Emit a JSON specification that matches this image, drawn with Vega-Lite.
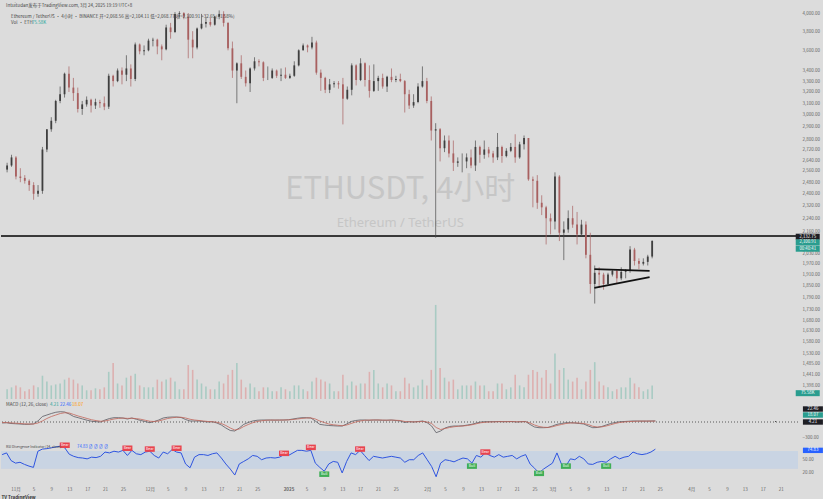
{
"$schema":"https://vega.github.io/schema/vega-lite/v6.json",
"background":"#dcdcdc",
"padding":{"left":0,"top":2,"right":0,"bottom":0},
"spacing":0,
"title":{"text":"Intuitudan发布于TradingView.com, 3月 24, 2025 19:19 UTC+8","anchor":"start","fontSize":4.5,"fontWeight":"normal","color":"#444","offset":3,"font":"Noto Sans CJK SC","dx":6},
"config":{"view":{"stroke":null},"font":"Noto Sans CJK SC","axis":{"grid":false,"domain":false,"ticks":false,"labelFontSize":4.5,"labelColor":"#666","labelFont":"Noto Sans CJK SC","labelOverlap":false}},
"datasets":{
"p":[
{"d":"2024-10-29","o":2570,"h":2620,"l":2550,"c":2600,"v":10,"m":-20,"s":-10,"r":62},
{"d":"2024-10-30","o":2600,"h":2680,"l":2590,"c":2660,"v":12,"m":-15,"s":-12,"r":66},
{"d":"2024-10-31","o":2660,"h":2670,"l":2500,"c":2520,"v":14,"m":-30,"s":-18,"r":48},
{"d":"2024-11-01","o":2520,"h":2580,"l":2480,"c":2510,"v":12,"m":-35,"s":-24,"r":42},
{"d":"2024-11-02","o":2510,"h":2530,"l":2470,"c":2490,"v":8,"m":-40,"s":-30,"r":44},
{"d":"2024-11-03","o":2490,"h":2500,"l":2420,"c":2460,"v":10,"m":-47,"s":-36,"r":39},
{"d":"2024-11-04","o":2460,"h":2480,"l":2360,"c":2400,"v":14,"m":-45,"s":-40,"r":35},
{"d":"2024-11-05","o":2400,"h":2460,"l":2380,"c":2420,"v":12,"m":-38,"s":-40,"r":32},
{"d":"2024-11-06","o":2420,"h":2740,"l":2400,"c":2720,"v":24,"m":20,"s":-20,"r":70},
{"d":"2024-11-07","o":2720,"h":2880,"l":2700,"c":2880,"v":18,"m":110,"s":20,"r":75},
{"d":"2024-11-08","o":2880,"h":2980,"l":2860,"c":2950,"v":14,"m":140,"s":70,"r":76},
{"d":"2024-11-09","o":2950,"h":3130,"l":2930,"c":3120,"v":15,"m":170,"s":110,"r":78},
{"d":"2024-11-10","o":3120,"h":3250,"l":3100,"c":3180,"v":16,"m":195,"s":140,"r":80},
{"d":"2024-11-11","o":3180,"h":3380,"l":3150,"c":3370,"v":20,"m":206,"s":170,"r":82},
{"d":"2024-11-12","o":3370,"h":3440,"l":3200,"c":3240,"v":22,"m":200,"s":185,"r":78},
{"d":"2024-11-13","o":3240,"h":3330,"l":3120,"c":3190,"v":20,"m":160,"s":180,"r":63},
{"d":"2024-11-14","o":3190,"h":3240,"l":3020,"c":3050,"v":16,"m":110,"s":150,"r":58},
{"d":"2024-11-15","o":3050,"h":3120,"l":3000,"c":3090,"v":14,"m":86,"s":120,"r":55},
{"d":"2024-11-16","o":3090,"h":3160,"l":3070,"c":3130,"v":9,"m":60,"s":95,"r":54},
{"d":"2024-11-17","o":3130,"h":3140,"l":3020,"c":3080,"v":9,"m":35,"s":70,"r":52},
{"d":"2024-11-18","o":3080,"h":3140,"l":3050,"c":3110,"v":11,"m":15,"s":45,"r":56},
{"d":"2024-11-19","o":3110,"h":3130,"l":3060,"c":3100,"v":10,"m":6,"s":28,"r":55},
{"d":"2024-11-20","o":3100,"h":3160,"l":3040,"c":3070,"v":12,"m":0,"s":15,"r":58},
{"d":"2024-11-21","o":3070,"h":3370,"l":3050,"c":3350,"v":28,"m":40,"s":20,"r":68},
{"d":"2024-11-22","o":3350,"h":3360,"l":3250,"c":3300,"v":37,"m":70,"s":40,"r":66},
{"d":"2024-11-23","o":3300,"h":3420,"l":3290,"c":3400,"v":16,"m":86,"s":60,"r":70},
{"d":"2024-11-24","o":3400,"h":3430,"l":3270,"c":3360,"v":14,"m":86,"s":72,"r":68},
{"d":"2024-11-25","o":3360,"h":3550,"l":3300,"c":3420,"v":22,"m":80,"s":78,"r":72},
{"d":"2024-11-26","o":3420,"h":3460,"l":3250,"c":3320,"v":24,"m":60,"s":72,"r":60},
{"d":"2024-11-27","o":3320,"h":3680,"l":3300,"c":3660,"v":26,"m":80,"s":75,"r":72},
{"d":"2024-11-28","o":3660,"h":3670,"l":3560,"c":3590,"v":14,"m":55,"s":68,"r":64},
{"d":"2024-11-29","o":3590,"h":3650,"l":3550,"c":3600,"v":12,"m":30,"s":55,"r":62},
{"d":"2024-11-30","o":3600,"h":3720,"l":3590,"c":3700,"v":12,"m":10,"s":35,"r":68},
{"d":"2024-12-01","o":3700,"h":3730,"l":3640,"c":3710,"v":12,"m":-14,"s":15,"r":70},
{"d":"2024-12-02","o":3710,"h":3720,"l":3560,"c":3640,"v":20,"m":10,"s":10,"r":60},
{"d":"2024-12-03","o":3640,"h":3660,"l":3500,"c":3610,"v":18,"m":40,"s":20,"r":54},
{"d":"2024-12-04","o":3610,"h":3870,"l":3600,"c":3840,"v":20,"m":80,"s":45,"r":68},
{"d":"2024-12-05","o":3840,"h":3890,"l":3720,"c":3790,"v":22,"m":95,"s":70,"r":64},
{"d":"2024-12-06","o":3790,"h":4010,"l":3780,"c":3990,"v":18,"m":100,"s":85,"r":74},
{"d":"2024-12-07","o":3990,"h":4020,"l":3950,"c":4000,"v":10,"m":100,"s":95,"r":68},
{"d":"2024-12-08","o":4000,"h":4010,"l":3930,"c":3960,"v":10,"m":90,"s":95,"r":66},
{"d":"2024-12-09","o":3960,"h":4000,"l":3520,"c":3710,"v":35,"m":50,"s":80,"r":40},
{"d":"2024-12-10","o":3710,"h":3800,"l":3520,"c":3630,"v":30,"m":20,"s":55,"r":31},
{"d":"2024-12-11","o":3630,"h":3840,"l":3610,"c":3830,"v":20,"m":20,"s":40,"r":56},
{"d":"2024-12-12","o":3830,"h":3990,"l":3820,"c":3880,"v":16,"m":20,"s":30,"r":62},
{"d":"2024-12-13","o":3880,"h":3950,"l":3840,"c":3900,"v":13,"m":10,"s":20,"r":62},
{"d":"2024-12-14","o":3900,"h":3950,"l":3850,"c":3870,"v":10,"m":0,"s":10,"r":60},
{"d":"2024-12-15","o":3870,"h":3970,"l":3860,"c":3960,"v":10,"m":5,"s":5,"r":64},
{"d":"2024-12-16","o":3960,"h":4030,"l":3930,"c":3990,"v":18,"m":-20,"s":-5,"r":66},
{"d":"2024-12-17","o":3990,"h":4020,"l":3850,"c":3890,"v":16,"m":-60,"s":-30,"r":54},
{"d":"2024-12-18","o":3890,"h":3900,"l":3600,"c":3620,"v":25,"m":-120,"s":-70,"r":40},
{"d":"2024-12-19","o":3620,"h":3690,"l":3330,"c":3400,"v":30,"m":-170,"s":-120,"r":28},
{"d":"2024-12-20","o":3400,"h":3480,"l":3100,"c":3470,"v":37,"m":-180,"s":-160,"r":14},
{"d":"2024-12-21","o":3470,"h":3550,"l":3320,"c":3340,"v":20,"m":-120,"s":-140,"r":40},
{"d":"2024-12-22","o":3340,"h":3400,"l":3250,"c":3280,"v":12,"m":-47,"s":-90,"r":46},
{"d":"2024-12-23","o":3280,"h":3430,"l":3200,"c":3420,"v":16,"m":-10,"s":-50,"r":52},
{"d":"2024-12-24","o":3420,"h":3530,"l":3400,"c":3490,"v":12,"m":20,"s":-15,"r":60},
{"d":"2024-12-25","o":3490,"h":3510,"l":3440,"c":3480,"v":8,"m":35,"s":10,"r":58},
{"d":"2024-12-26","o":3480,"h":3490,"l":3300,"c":3330,"v":12,"m":40,"s":25,"r":50},
{"d":"2024-12-27","o":3330,"h":3440,"l":3310,"c":3330,"v":12,"m":40,"s":35,"r":54},
{"d":"2024-12-28","o":3330,"h":3420,"l":3320,"c":3400,"v":8,"m":40,"s":38,"r":55},
{"d":"2024-12-29","o":3400,"h":3410,"l":3330,"c":3350,"v":8,"m":38,"s":38,"r":54},
{"d":"2024-12-30","o":3350,"h":3420,"l":3300,"c":3360,"v":12,"m":40,"s":38,"r":56},
{"d":"2024-12-31","o":3360,"h":3430,"l":3320,"c":3330,"v":10,"m":40,"s":40,"r":62},
{"d":"2025-01-01","o":3330,"h":3370,"l":3320,"c":3350,"v":8,"m":45,"s":42,"r":60},
{"d":"2025-01-02","o":3350,"h":3490,"l":3340,"c":3450,"v":14,"m":60,"s":50,"r":66},
{"d":"2025-01-03","o":3450,"h":3610,"l":3440,"c":3600,"v":14,"m":75,"s":60,"r":72},
{"d":"2025-01-04","o":3600,"h":3670,"l":3600,"c":3650,"v":10,"m":86,"s":72,"r":72},
{"d":"2025-01-05","o":3650,"h":3660,"l":3580,"c":3630,"v":8,"m":86,"s":80,"r":70},
{"d":"2025-01-06","o":3630,"h":3740,"l":3610,"c":3680,"v":18,"m":80,"s":82,"r":72},
{"d":"2025-01-07","o":3680,"h":3700,"l":3360,"c":3380,"v":22,"m":20,"s":60,"r":42},
{"d":"2025-01-08","o":3380,"h":3410,"l":3210,"c":3330,"v":20,"m":-47,"s":20,"r":32},
{"d":"2025-01-09","o":3330,"h":3340,"l":3190,"c":3220,"v":18,"m":-60,"s":-10,"r":23},
{"d":"2025-01-10","o":3220,"h":3320,"l":3190,"c":3270,"v":16,"m":-70,"s":-40,"r":40},
{"d":"2025-01-11","o":3270,"h":3300,"l":3240,"c":3280,"v":8,"m":-75,"s":-55,"r":46},
{"d":"2025-01-12","o":3280,"h":3300,"l":3230,"c":3270,"v":8,"m":-80,"s":-65,"r":44},
{"d":"2025-01-13","o":3270,"h":3330,"l":2920,"c":3140,"v":25,"m":-80,"s":-75,"r":19},
{"d":"2025-01-14","o":3140,"h":3250,"l":3130,"c":3220,"v":14,"m":-40,"s":-60,"r":46},
{"d":"2025-01-15","o":3220,"h":3470,"l":3170,"c":3450,"v":18,"m":10,"s":-30,"r":66},
{"d":"2025-01-16","o":3450,"h":3460,"l":3260,"c":3310,"v":14,"m":30,"s":0,"r":62},
{"d":"2025-01-17","o":3310,"h":3520,"l":3300,"c":3470,"v":16,"m":40,"s":20,"r":72},
{"d":"2025-01-18","o":3470,"h":3480,"l":3250,"c":3310,"v":16,"m":40,"s":35,"r":60},
{"d":"2025-01-19","o":3310,"h":3450,"l":3150,"c":3210,"v":28,"m":35,"s":38,"r":48},
{"d":"2025-01-20","o":3210,"h":3460,"l":3200,"c":3300,"v":30,"m":40,"s":40,"r":58},
{"d":"2025-01-21","o":3300,"h":3350,"l":3210,"c":3330,"v":16,"m":40,"s":40,"r":56},
{"d":"2025-01-22","o":3330,"h":3370,"l":3230,"c":3250,"v":12,"m":35,"s":38,"r":54},
{"d":"2025-01-23","o":3250,"h":3350,"l":3200,"c":3340,"v":16,"m":35,"s":36,"r":56},
{"d":"2025-01-24","o":3340,"h":3420,"l":3290,"c":3310,"v":14,"m":40,"s":38,"r":58},
{"d":"2025-01-25","o":3310,"h":3350,"l":3290,"c":3320,"v":8,"m":30,"s":35,"r":56},
{"d":"2025-01-26","o":3320,"h":3370,"l":3290,"c":3300,"v":8,"m":20,"s":30,"r":54},
{"d":"2025-01-27","o":3300,"h":3310,"l":3020,"c":3180,"v":22,"m":-10,"s":10,"r":44},
{"d":"2025-01-28","o":3180,"h":3220,"l":3050,"c":3080,"v":16,"m":6,"s":5,"r":50},
{"d":"2025-01-29","o":3080,"h":3180,"l":3060,"c":3110,"v":12,"m":0,"s":2,"r":50},
{"d":"2025-01-30","o":3110,"h":3280,"l":3100,"c":3250,"v":14,"m":10,"s":5,"r":60},
{"d":"2025-01-31","o":3250,"h":3440,"l":3240,"c":3300,"v":20,"m":20,"s":12,"r":66},
{"d":"2025-02-01","o":3300,"h":3330,"l":3100,"c":3120,"v":14,"m":-14,"s":0,"r":50},
{"d":"2025-02-02","o":3120,"h":3160,"l":2790,"c":2870,"v":30,"m":-80,"s":-30,"r":34},
{"d":"2025-02-03","o":2870,"h":2930,"l":2120,"c":2880,"v":97,"m":-214,"s":-110,"r":10},
{"d":"2025-02-04","o":2880,"h":2890,"l":2630,"c":2730,"v":32,"m":-180,"s":-150,"r":42},
{"d":"2025-02-05","o":2730,"h":2830,"l":2700,"c":2790,"v":22,"m":-120,"s":-130,"r":50},
{"d":"2025-02-06","o":2790,"h":2830,"l":2660,"c":2690,"v":18,"m":-90,"s":-110,"r":48},
{"d":"2025-02-07","o":2690,"h":2790,"l":2560,"c":2620,"v":20,"m":-80,"s":-95,"r":45},
{"d":"2025-02-08","o":2620,"h":2660,"l":2590,"c":2630,"v":10,"m":-80,"s":-85,"r":50},
{"d":"2025-02-09","o":2630,"h":2690,"l":2550,"c":2630,"v":14,"m":-75,"s":-80,"r":54},
{"d":"2025-02-10","o":2630,"h":2690,"l":2580,"c":2660,"v":14,"m":-60,"s":-70,"r":52},
{"d":"2025-02-11","o":2660,"h":2720,"l":2580,"c":2600,"v":14,"m":-45,"s":-55,"r":42},
{"d":"2025-02-12","o":2600,"h":2790,"l":2560,"c":2740,"v":18,"m":-20,"s":-35,"r":60},
{"d":"2025-02-13","o":2740,"h":2750,"l":2620,"c":2680,"v":14,"m":0,"s":-15,"r":56},
{"d":"2025-02-14","o":2680,"h":2790,"l":2650,"c":2720,"v":14,"m":6,"s":-5,"r":66},
{"d":"2025-02-15","o":2720,"h":2740,"l":2660,"c":2690,"v":8,"m":6,"s":0,"r":60},
{"d":"2025-02-16","o":2690,"h":2710,"l":2620,"c":2660,"v":8,"m":6,"s":3,"r":56},
{"d":"2025-02-17","o":2660,"h":2850,"l":2640,"c":2740,"v":16,"m":10,"s":6,"r":62},
{"d":"2025-02-18","o":2740,"h":2750,"l":2620,"c":2670,"v":16,"m":6,"s":6,"r":56},
{"d":"2025-02-19","o":2670,"h":2730,"l":2660,"c":2710,"v":10,"m":8,"s":6,"r":58},
{"d":"2025-02-20","o":2710,"h":2770,"l":2700,"c":2740,"v":12,"m":10,"s":8,"r":60},
{"d":"2025-02-21","o":2740,"h":2840,"l":2620,"c":2660,"v":25,"m":0,"s":5,"r":52},
{"d":"2025-02-22","o":2660,"h":2780,"l":2650,"c":2760,"v":14,"m":6,"s":5,"r":58},
{"d":"2025-02-23","o":2760,"h":2830,"l":2720,"c":2810,"v":12,"m":10,"s":6,"r":62},
{"d":"2025-02-24","o":2810,"h":2810,"l":2490,"c":2500,"v":25,"m":-50,"s":-20,"r":40},
{"d":"2025-02-25","o":2500,"h":2520,"l":2310,"c":2490,"v":30,"m":-100,"s":-60,"r":30},
{"d":"2025-02-26","o":2490,"h":2530,"l":2300,"c":2340,"v":28,"m":-114,"s":-90,"r":19},
{"d":"2025-02-27","o":2340,"h":2390,"l":2260,"c":2310,"v":22,"m":-114,"s":-105,"r":28},
{"d":"2025-02-28","o":2310,"h":2320,"l":2080,"c":2240,"v":30,"m":-110,"s":-108,"r":35},
{"d":"2025-03-01","o":2240,"h":2270,"l":2140,"c":2220,"v":16,"m":-80,"s":-95,"r":42},
{"d":"2025-03-02","o":2220,"h":2550,"l":2170,"c":2520,"v":47,"m":-47,"s":-70,"r":66},
{"d":"2025-03-03","o":2520,"h":2530,"l":2100,"c":2150,"v":30,"m":-30,"s":-50,"r":40},
{"d":"2025-03-04","o":2150,"h":2220,"l":1990,"c":2170,"v":32,"m":-14,"s":-30,"r":35},
{"d":"2025-03-05","o":2170,"h":2290,"l":2150,"c":2240,"v":20,"m":-14,"s":-20,"r":52},
{"d":"2025-03-06","o":2240,"h":2320,"l":2180,"c":2200,"v":18,"m":-20,"s":-18,"r":50},
{"d":"2025-03-07","o":2200,"h":2280,"l":2080,"c":2140,"v":22,"m":-30,"s":-22,"r":58},
{"d":"2025-03-08","o":2140,"h":2230,"l":2130,"c":2200,"v":10,"m":-40,"s":-30,"r":52},
{"d":"2025-03-09","o":2200,"h":2220,"l":2000,"c":2020,"v":18,"m":-80,"s":-50,"r":40},
{"d":"2025-03-10","o":2020,"h":2150,"l":1810,"c":1860,"v":30,"m":-114,"s":-85,"r":39},
{"d":"2025-03-11","o":1860,"h":1960,"l":1760,"c":1920,"v":38,"m":-110,"s":-100,"r":44},
{"d":"2025-03-12","o":1920,"h":1950,"l":1840,"c":1910,"v":18,"m":-90,"s":-98,"r":46},
{"d":"2025-03-13","o":1910,"h":1920,"l":1830,"c":1860,"v":14,"m":-60,"s":-80,"r":44},
{"d":"2025-03-14","o":1860,"h":1920,"l":1850,"c":1910,"v":12,"m":-30,"s":-55,"r":52},
{"d":"2025-03-15","o":1910,"h":1940,"l":1900,"c":1930,"v":8,"m":-10,"s":-30,"r":58},
{"d":"2025-03-16","o":1930,"h":1940,"l":1860,"c":1890,"v":10,"m":5,"s":-10,"r":52},
{"d":"2025-03-17","o":1890,"h":1950,"l":1880,"c":1925,"v":12,"m":10,"s":0,"r":56},
{"d":"2025-03-18","o":1925,"h":1940,"l":1890,"c":1930,"v":12,"m":15,"s":8,"r":58},
{"d":"2025-03-19","o":1930,"h":2070,"l":1920,"c":2050,"v":22,"m":20,"s":12,"r":68},
{"d":"2025-03-20","o":2050,"h":2060,"l":1960,"c":1985,"v":16,"m":20,"s":16,"r":64},
{"d":"2025-03-21","o":1985,"h":2000,"l":1940,"c":1970,"v":12,"m":18,"s":18,"r":62},
{"d":"2025-03-22","o":1970,"h":2000,"l":1960,"c":1980,"v":8,"m":18,"s":18,"r":64},
{"d":"2025-03-23","o":1980,"h":2020,"l":1960,"c":2010,"v":10,"m":20,"s":18,"r":68},
{"d":"2025-03-24","o":2010,"h":2104,"l":2000,"c":2101,"v":14,"m":22.46,"s":18.07,"r":74.83}
],
"wm":[
{"t":"ETHUSDT, 4小时","d":"2025-01-26","p":2424,"k":"big"},
{"t":"Ethereum / TetherUS","d":"2025-01-26","p":2210,"k":"small"}
],
"tri":[
{"d":"2025-03-10T22:00:00Z","d2":"2025-03-23T10:00:00Z","p":1940,"p2":1930},
{"d":"2025-03-10T22:00:00Z","d2":"2025-03-23T10:00:00Z","p":1840,"p2":1897}
],
"leg":[
{"t":"Ethereum / TetherUS · 4小时 · BINANCE  开=2,068.56  高=2,104.11  低=2,068.77  收=2,100.91  +32.65 (+1.58%)","d":"2024-10-29","p":3955}
],
"vol":[{"t":"Vol · ETH","d":"2024-10-29","p":3888}],
"volv":[{"t":"75.58K","d":"2024-10-29","p":3888}],
"mleg":[{"t":"MACD (12, 26, close)","d":"2024-10-29","m":340}],
"rleg":[{"t":"RSI Divergence Indicator (14, close)","d":"2024-10-29","r":79}],
"ptag":[
{"t":"2,132.75","d":"2025-04-28T05:00:00Z","p":2126,"k":"line"},
{"t":"2,100.91","d":"2025-04-28T05:00:00Z","p":2092,"k":"last"},
{"t":"00:40:41","d":"2025-04-28T05:00:00Z","p":2055,"k":"last"}
],
"vtag":[{"t":"75.58K","d":"2025-04-28T05:00:00Z","v":6,"k":"vol"}],
"mtag":[
{"t":"22.46","d":"2025-04-28T05:00:00Z","m":260,"k":"macd"},
{"t":"18.07","d":"2025-04-28T05:00:00Z","m":140,"k":"signal"},
{"t":"4.21","d":"2025-04-28T05:00:00Z","m":0,"k":"hist"}
],
"rtag":[{"t":"74.83","d":"2025-04-28T05:00:00Z","r":72,"k":"rsi"}],
"sig":[
{"d":"2024-11-12","r":84,"t":"Bear"},
{"d":"2024-11-26","r":77,"t":"Bear"},
{"d":"2024-12-01","r":75,"t":"Bear"},
{"d":"2024-12-07","r":77,"t":"Bear"},
{"d":"2024-12-31","r":65,"t":"Bear"},
{"d":"2025-01-06","r":79,"t":"Bear"},
{"d":"2025-01-17","r":75,"t":"Bear"},
{"d":"2025-02-14","r":68,"t":"Bear"},
{"d":"2025-01-09","r":16,"t":"Bull"},
{"d":"2025-02-11","r":35,"t":"Bull"},
{"d":"2025-02-26","r":18,"t":"Bull"},
{"d":"2025-03-04","r":35,"t":"Bull"},
{"d":"2025-03-13","r":35,"t":"Bull"}
]
},
"vconcat":[
{
"width":797,"height":388,
"layer":[
{"layer":[
{"data":{"name":"p"},"mark":{"type":"bar","size":1.6},
"encoding":{"x":{"field":"d","type":"temporal","scale":{"type":"utc","domain":[{"year":2024,"month":10,"date":28,"hours":18,"utc":true},{"year":2025,"month":4,"date":24,"hours":21,"utc":true}]},"axis":null},
"y":{"field":"v","type":"quantitative","scale":{"domain":[0,400],"nice":false},"axis":null},
"color":{"condition":{"test":"datum.c >= datum.o","value":"#a9cbc3"},"value":"#ddb0b0"}}},
{"data":{"name":"vtag"},"mark":{"type":"point","shape":"M-1,-0.25H1V0.25H-1Z","size":576,"filled":true,"opacity":1,"color":"#2a9d8f"},
"encoding":{"x":{"field":"d","type":"temporal"},"y":{"field":"v","type":"quantitative"}}},
{"data":{"name":"vtag"},"mark":{"type":"text","fontSize":4.3,"color":"white"},
"encoding":{"x":{"field":"d","type":"temporal"},"y":{"field":"v","type":"quantitative"},"text":{"field":"t"}}}
]},
{"layer":[
{"data":{"name":"wm"},"transform":[{"filter":"datum.k=='big'"}],"mark":{"type":"text","fontSize":31,"color":"#c6c6c6","font":"Noto Sans CJK SC"},
"encoding":{"x":{"field":"d","type":"temporal"},"y":{"field":"p","type":"quantitative","scale":{"type":"log","domain":[1344,4023],"nice":false},"axis":{"orient":"right","title":null,"labelOverlap":false,"tickCount":100,"values":[4000,3800,3600,3400,3300,3200,3100,3000,2900,2800,2720,2640,2560,2480,2400,2320,2240,2160,2030,1970,1910,1850,1790,1730,1680,1630,1580,1530,1485,1441,1398],"format":",.2f","labelPadding":4}},"text":{"field":"t"}}},
{"data":{"name":"wm"},"transform":[{"filter":"datum.k=='small'"}],"mark":{"type":"text","fontSize":13,"color":"#c6c6c6","font":"Noto Sans"},
"encoding":{"x":{"field":"d","type":"temporal"},"y":{"field":"p","type":"quantitative"},"text":{"field":"t"}}},
{"data":{"name":"p"},"mark":{"type":"rule","color":"#3a3a3a","strokeWidth":1.3},"encoding":{"y":{"datum":2132.75}}},
{"data":{"name":"p"},"mark":{"type":"rule","strokeWidth":0.7},
"encoding":{"x":{"field":"d","type":"temporal"},"y":{"field":"l","type":"quantitative"},"y2":{"field":"h"},
"color":{"condition":{"test":"datum.c >= datum.o","value":"#4a4a4a"},"value":"#a86060"}}},
{"data":{"name":"p"},"mark":{"type":"bar","size":1.8},
"encoding":{"x":{"field":"d","type":"temporal"},"y":{"field":"o","type":"quantitative"},"y2":{"field":"c"},
"color":{"condition":{"test":"datum.c >= datum.o","value":"#3f3f3f"},"value":"#a86060"}}},
{"data":{"name":"tri"},"mark":{"type":"rule","color":"#111","strokeWidth":1.8},
"encoding":{"x":{"field":"d","type":"temporal"},"x2":{"field":"d2"},"y":{"field":"p","type":"quantitative"},"y2":{"field":"p2"}}},
{"data":{"name":"leg"},"mark":{"type":"text","align":"left","fontSize":4.5,"color":"#444","dx":4},
"encoding":{"x":{"field":"d","type":"temporal"},"y":{"field":"p","type":"quantitative"},"text":{"field":"t"}}},
{"data":{"name":"vol"},"mark":{"type":"text","align":"left","fontSize":4.5,"color":"#444","dx":4},
"encoding":{"x":{"field":"d","type":"temporal"},"y":{"field":"p","type":"quantitative"},"text":{"field":"t"}}},
{"data":{"name":"volv"},"mark":{"type":"text","align":"left","fontSize":4.5,"color":"#26a69a","dx":25},
"encoding":{"x":{"field":"d","type":"temporal"},"y":{"field":"p","type":"quantitative"},"text":{"field":"t"}}},
{"data":{"name":"ptag"},"mark":{"type":"point","shape":"M-1,-0.25H1V0.25H-1Z","size":576,"filled":true,"opacity":1},
"encoding":{"x":{"field":"d","type":"temporal"},"y":{"field":"p","type":"quantitative"},
"color":{"field":"k","type":"nominal","scale":{"domain":["line","last"],"range":["#1e1e24","#2a9d8f"]},"legend":null}}},
{"data":{"name":"ptag"},"mark":{"type":"text","fontSize":4.3,"color":"white"},
"encoding":{"x":{"field":"d","type":"temporal"},"y":{"field":"p","type":"quantitative"},"text":{"field":"t"}}}
]}
],
"resolve":{"scale":{"y":"independent"}}
},
{
"width":797,"height":42,
"layer":[
{"data":{"name":"p"},"mark":{"type":"rule","color":"#9a9a9a","strokeDash":[1,2],"strokeWidth":0.6},"encoding":{"y":{"datum":0}}},
{"data":{"name":"p"},"mark":{"type":"line","color":"#5a5a62","strokeWidth":0.8},
"encoding":{"x":{"field":"d","type":"temporal","scale":{"type":"utc","domain":[{"year":2024,"month":10,"date":28,"hours":18,"utc":true},{"year":2025,"month":4,"date":24,"hours":21,"utc":true}]},"axis":null},
"y":{"field":"m","type":"quantitative","scale":{"domain":[-380,460],"nice":false},"axis":{"orient":"right","title":null,"values":[-300],"format":",.2f","labelPadding":4}}}},
{"data":{"name":"p"},"mark":{"type":"line","color":"#c2665a","strokeWidth":0.8},
"encoding":{"x":{"field":"d","type":"temporal"},"y":{"field":"s","type":"quantitative"}}},
{"data":{"name":"mleg"},"mark":{"type":"text","align":"left","fontSize":4.5,"color":"#444","dx":4},
"encoding":{"x":{"field":"d","type":"temporal"},"y":{"field":"m","type":"quantitative"},"text":{"field":"t"}}},
{"data":{"name":"mleg"},"mark":{"type":"text","align":"left","fontSize":4.5,"color":"#26a69a","dx":48,"text":"4.21"},
"encoding":{"x":{"field":"d","type":"temporal"},"y":{"field":"m","type":"quantitative"}}},
{"data":{"name":"mleg"},"mark":{"type":"text","align":"left","fontSize":4.5,"color":"#2962ff","dx":58,"text":"22.46"},
"encoding":{"x":{"field":"d","type":"temporal"},"y":{"field":"m","type":"quantitative"}}},
{"data":{"name":"mleg"},"mark":{"type":"text","align":"left","fontSize":4.5,"color":"#ff9800","dx":70,"text":"18.07"},
"encoding":{"x":{"field":"d","type":"temporal"},"y":{"field":"m","type":"quantitative"}}},
{"data":{"name":"mtag"},"mark":{"type":"point","shape":"M-1,-0.27H1V0.27H-1Z","size":400,"filled":true,"opacity":1},
"encoding":{"x":{"field":"d","type":"temporal"},"y":{"field":"m","type":"quantitative"},
"color":{"field":"k","type":"nominal","scale":{"domain":["macd","signal","hist"],"range":["#2962ff","#f57c00","#26a69a"]},"legend":null}}},
{"data":{"name":"mtag"},"mark":{"type":"text","fontSize":4.3,"color":"white"},
"encoding":{"x":{"field":"d","type":"temporal"},"y":{"field":"m","type":"quantitative"},"text":{"field":"t"}}}
]
},
{
"width":797,"height":40,
"layer":[
{"data":{"name":"p"},"mark":{"type":"rect","color":"#c9d4e3"},"encoding":{"y":{"datum":70},"y2":{"datum":30}}},
{"data":{"name":"p"},"mark":{"type":"line","color":"#2f55e0","strokeWidth":1},
"encoding":{"x":{"field":"d","type":"temporal","scale":{"type":"utc","domain":[{"year":2024,"month":10,"date":28,"hours":18,"utc":true},{"year":2025,"month":4,"date":24,"hours":21,"utc":true}]},
"axis":{"labelOverlap":false,"labelBound":false,"tickCount":100,"values":[
{"year":2024,"month":11,"date":1,"utc":true},{"year":2024,"month":11,"date":5,"utc":true},{"year":2024,"month":11,"date":9,"utc":true},{"year":2024,"month":11,"date":13,"utc":true},{"year":2024,"month":11,"date":17,"utc":true},{"year":2024,"month":11,"date":21,"utc":true},{"year":2024,"month":11,"date":25,"utc":true},
{"year":2024,"month":12,"date":1,"utc":true},{"year":2024,"month":12,"date":5,"utc":true},{"year":2024,"month":12,"date":9,"utc":true},{"year":2024,"month":12,"date":13,"utc":true},{"year":2024,"month":12,"date":17,"utc":true},{"year":2024,"month":12,"date":21,"utc":true},{"year":2024,"month":12,"date":25,"utc":true},
{"year":2025,"month":1,"date":1,"utc":true},{"year":2025,"month":1,"date":5,"utc":true},{"year":2025,"month":1,"date":9,"utc":true},{"year":2025,"month":1,"date":13,"utc":true},{"year":2025,"month":1,"date":17,"utc":true},{"year":2025,"month":1,"date":21,"utc":true},{"year":2025,"month":1,"date":25,"utc":true},
{"year":2025,"month":2,"date":1,"utc":true},{"year":2025,"month":2,"date":5,"utc":true},{"year":2025,"month":2,"date":9,"utc":true},{"year":2025,"month":2,"date":13,"utc":true},{"year":2025,"month":2,"date":17,"utc":true},{"year":2025,"month":2,"date":21,"utc":true},{"year":2025,"month":2,"date":25,"utc":true},
{"year":2025,"month":3,"date":1,"utc":true},{"year":2025,"month":3,"date":5,"utc":true},{"year":2025,"month":3,"date":9,"utc":true},{"year":2025,"month":3,"date":13,"utc":true},{"year":2025,"month":3,"date":17,"utc":true},{"year":2025,"month":3,"date":21,"utc":true},{"year":2025,"month":3,"date":25,"utc":true},
{"year":2025,"month":4,"date":1,"utc":true},{"year":2025,"month":4,"date":5,"utc":true},{"year":2025,"month":4,"date":9,"utc":true},{"year":2025,"month":4,"date":13,"utc":true},{"year":2025,"month":4,"date":17,"utc":true},{"year":2025,"month":4,"date":21,"utc":true}
],
"labelExpr":"utcdate(datum.value)==1 ? (utcmonth(datum.value)==0 ? '' + utcyear(datum.value) : (utcmonth(datum.value)+1) + '月') : '' + utcdate(datum.value)",
"labelFontWeight":{"condition":{"test":"utcmonth(datum.value)==0 && utcdate(datum.value)==1","value":"bold"},"value":"normal"},
"labelPadding":5,"title":"TV TradingView","titleAnchor":"start","titleFontSize":4.5,"titleFontWeight":"bold","titleColor":"#333","titlePadding":4}},
"y":{"field":"r","type":"quantitative","scale":{"domain":[0,94],"nice":false},"axis":{"orient":"right","title":null,"values":[20,50],"format":".2f","labelPadding":4}}}},
{"data":{"name":"sig"},"mark":{"type":"point","shape":"M-1,-0.55H1V0.55H-1Z","size":100,"filled":true,"opacity":1},
"encoding":{"x":{"field":"d","type":"temporal"},"y":{"field":"r","type":"quantitative"},
"color":{"condition":{"test":"datum.t=='Bear'","value":"#e8444f"},"value":"#3fae55"}}},
{"data":{"name":"sig"},"mark":{"type":"text","fontSize":3.5,"color":"white"},
"encoding":{"x":{"field":"d","type":"temporal"},"y":{"field":"r","type":"quantitative"},"text":{"field":"t"}}},
{"data":{"name":"rleg"},"mark":{"type":"text","align":"left","fontSize":3.4,"color":"#444","dx":4},
"encoding":{"x":{"field":"d","type":"temporal"},"y":{"field":"r","type":"quantitative"},"text":{"field":"t"}}},
{"data":{"name":"rleg"},"mark":{"type":"text","align":"left","fontSize":4.2,"color":"#2962ff","dx":75,"text":"74.83  ∅  ∅  ∅  ∅"},
"encoding":{"x":{"field":"d","type":"temporal"},"y":{"field":"r","type":"quantitative"}}},
{"data":{"name":"rtag"},"mark":{"type":"point","shape":"M-1,-0.27H1V0.27H-1Z","size":400,"filled":true,"opacity":1,"color":"#2962ff"},
"encoding":{"x":{"field":"d","type":"temporal"},"y":{"field":"r","type":"quantitative"}}},
{"data":{"name":"rtag"},"mark":{"type":"text","fontSize":4.3,"color":"white"},
"encoding":{"x":{"field":"d","type":"temporal"},"y":{"field":"r","type":"quantitative"},"text":{"field":"t"}}}
]
}
]
}
